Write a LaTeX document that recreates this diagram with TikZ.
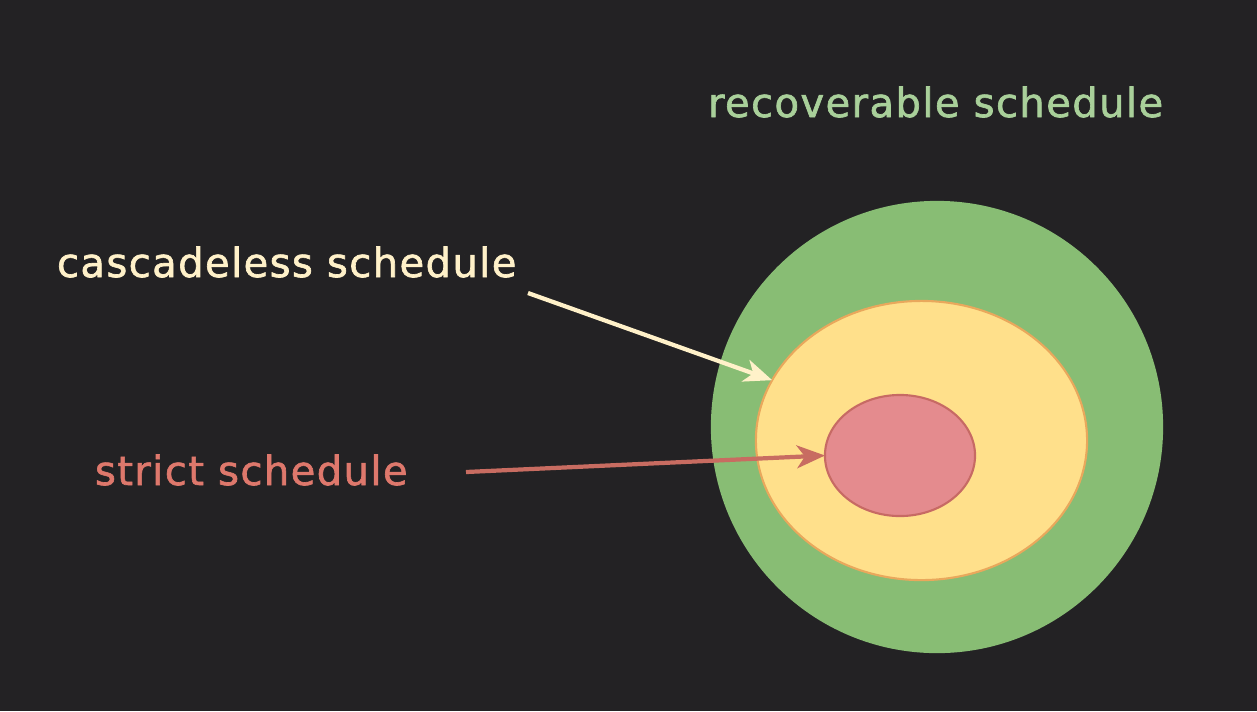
\documentclass[tikz,border=0pt]{standalone}
\usepackage{fontspec}
\usepackage{xcolor}
\usepackage{tikz}
\usetikzlibrary{arrows.meta, shapes.geometric, positioning}
\newfontfamily\setfont[LetterSpace=3.5, FakeBold=1.6]{DejaVu Sans}

\definecolor{bgdark}{HTML}{232224}
\definecolor{recovgreen}{HTML}{88BD74}
\definecolor{recovtext}{HTML}{A9D09A}
\definecolor{cascadeyellow}{HTML}{FFE08B}
\definecolor{cascadeline}{HTML}{E9A85C}
\definecolor{cascadetext}{HTML}{FFF1C9}
\definecolor{strictred}{HTML}{E48B8E}
\definecolor{strictline}{HTML}{C76A64}
\definecolor{stricttext}{HTML}{DE786C}

\begin{document}
\begin{tikzpicture}[
    x=0.01cm, y=-0.01cm,
    every node/.style={inner sep=0pt, outer sep=0pt},
    setlabel/.style={anchor=base west, font=\setfont\fontsize{11.4}{13}\selectfont},
    setshape/.style={ellipse, line width=0.6pt},
    pointer/.style={line width=1.2pt, -{Stealth[length=8pt, width=6.5pt, inset=2.3pt]}}
  ]
  \fill[bgdark] (0,0) rectangle (1257,711);

  % nested sets
  \node[setshape, fill=recovgreen, minimum width=4.52cm, minimum height=4.52cm]
    (recov) at (937,427) {};
  \node[setshape, fill=cascadeyellow, draw=cascadeline,
        minimum width=3.31cm, minimum height=2.79cm] (cascade) at (921.5,440.5) {};
  \node[setshape, fill=strictred, draw=strictline,
        minimum width=1.50cm, minimum height=1.21cm] (strict) at (900,455.5) {};

  % labels
  \node[setlabel, text=recovtext] (recovlabel) at (708,117) {recoverable schedule};
  \node[setlabel, text=cascadetext] (cascadelabel) at (57,277) {cascadeless schedule};
  \node[setlabel, text=stricttext] (strictlabel) at (95,485) {strict schedule};

  % pointers
  \coordinate (cascadetail) at (528,293);
  \coordinate (stricttail) at (466,472);
  \draw[pointer, cascadetext] (cascadetail) -- (cascade.158);
  \draw[pointer, stricttext!90!black] (stricttail) -- (strict.west);
\end{tikzpicture}
\end{document}
